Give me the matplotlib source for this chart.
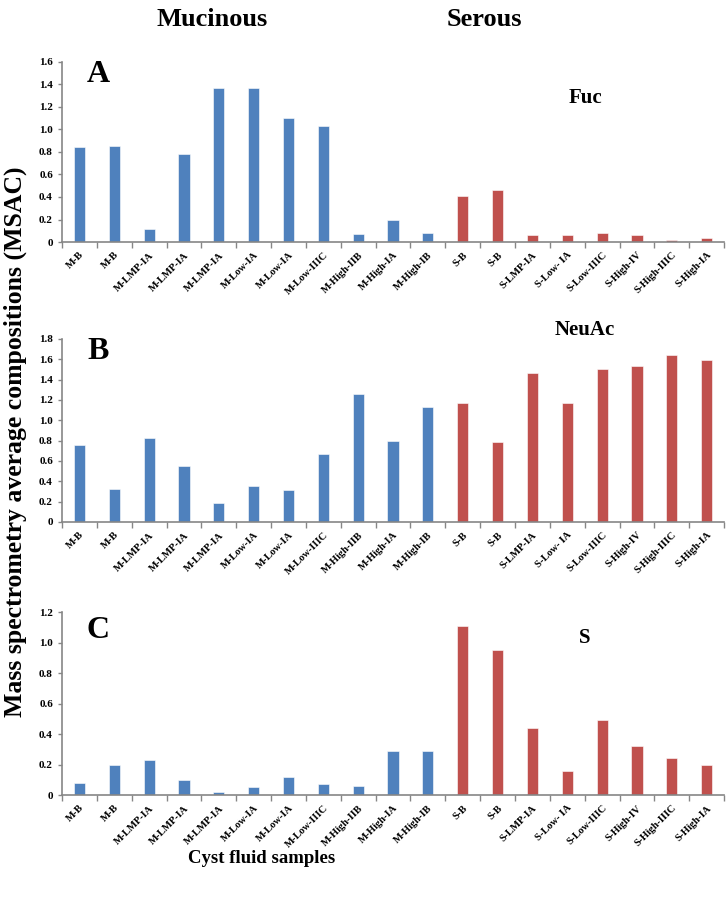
import numpy as np
import matplotlib.pyplot as plt
from matplotlib.ticker import FuncFormatter

plt.rcParams['font.family'] = 'Liberation Serif'
plt.rcParams['font.weight'] = 'bold'

muc_labels = ['M-B', 'M-B', 'M-LMP-IA', 'M-LMP-IA', 'M-LMP-IA', 'M-Low-IA', 'M-Low-IA',
              'M-Low-IIIC', 'M-High-IIB', 'M-High-IA', 'M-High-IB']
ser_labels = ['S-B', 'S-B', 'S-LMP-IA', 'S-Low- IA', 'S-Low-IIIC', 'S-High-IV',
              'S-High-IIIC', 'S-High-IA']

fuc_m = [0.84, 0.85, 0.12, 0.78, 1.37, 1.37, 1.10, 1.03, 0.07, 0.20, 0.08]
fuc_s = [0.41, 0.46, 0.06, 0.06, 0.08, 0.06, 0.02, 0.04]
neu_m = [0.76, 0.32, 0.83, 0.55, 0.19, 0.35, 0.31, 0.67, 1.26, 0.80, 1.13]
neu_s = [1.17, 0.79, 1.47, 1.17, 1.50, 1.53, 1.64, 1.59]
s_m = [0.08, 0.20, 0.23, 0.10, 0.02, 0.05, 0.12, 0.07, 0.06, 0.29, 0.29]
s_s = [1.11, 0.95, 0.44, 0.16, 0.49, 0.32, 0.24, 0.20]

blue = '#4F81BD'
red = '#C0504D'
grey = '#868686'

labels = muc_labels + ser_labels
n = len(labels)
x = np.arange(n)
colors = [blue] * len(muc_labels) + [red] * len(ser_labels)

fig = plt.figure(figsize=(7.26, 9.02), dpi=100)

panels = [
    ('A', 'Fuc', fuc_m + fuc_s, 1.6, [0.0854, 0.7317, 0.912, 0.1996], 0.8, 0.93),
    ('B', 'NeuAc', neu_m + neu_s, 1.8, [0.0854, 0.4213, 0.912, 0.2029], 1.05, 0.93),
    ('C', 'S', s_m + s_s, 1.2, [0.0854, 0.1186, 0.912, 0.2029], 0.86, 0.9),
]

def fmt(v, pos):
    return '0' if abs(v) < 1e-9 else '%.1f' % v

for letter, name, vals, ymax, pos, name_y, let_y in panels:
    ax = fig.add_axes(pos)
    ax.bar(x, vals, width=0.32, color=colors, edgecolor='white', linewidth=0.4)
    ax.set_xlim(-0.5, n - 0.5)
    ax.set_ylim(0, ymax)
    ax.set_yticks(np.arange(0, ymax + 0.01, 0.2))
    ax.yaxis.set_major_formatter(FuncFormatter(fmt))
    ax.set_xticks(x)
    ax.set_xticklabels(labels, rotation=45, ha='right', rotation_mode='anchor',
                       fontsize=7.5, fontweight='bold')
    ax.set_xticks(np.arange(-0.5, n, 1.0), minor=True)
    ax.tick_params(axis='x', which='major', length=0, pad=6)
    ax.tick_params(axis='x', which='minor', length=4, color=grey, width=1)
    ax.tick_params(axis='y', length=3, color=grey, width=1, labelsize=8)
    for lab in ax.get_yticklabels():
        lab.set_fontweight('bold')
    for sp in ['top', 'right']:
        ax.spines[sp].set_visible(False)
    for sp in ['left', 'bottom']:
        ax.spines[sp].set_color(grey)
        ax.spines[sp].set_linewidth(1.2)
    ax.text(0.055, let_y, letter, transform=ax.transAxes, fontsize=23,
            fontweight='bold', va='center', ha='center')
    ax.text(0.79, name_y, name, transform=ax.transAxes, fontsize=15,
            fontweight='bold', va='center', ha='center')

fig.text(0.292, 0.978, 'Mucinous', fontsize=19, fontweight='bold', ha='center', va='center')
fig.text(0.667, 0.978, 'Serous', fontsize=19, fontweight='bold', ha='center', va='center')
fig.text(0.021, 0.51, 'Mass spectrometry average compositions (MSAC)', fontsize=18.5,
         fontweight='bold', rotation=90, ha='center', va='center')
fig.text(0.36, 0.048, 'Cyst fluid samples', fontsize=13.5, fontweight='bold',
         ha='center', va='center')

fig.savefig('out.png', dpi=100)
